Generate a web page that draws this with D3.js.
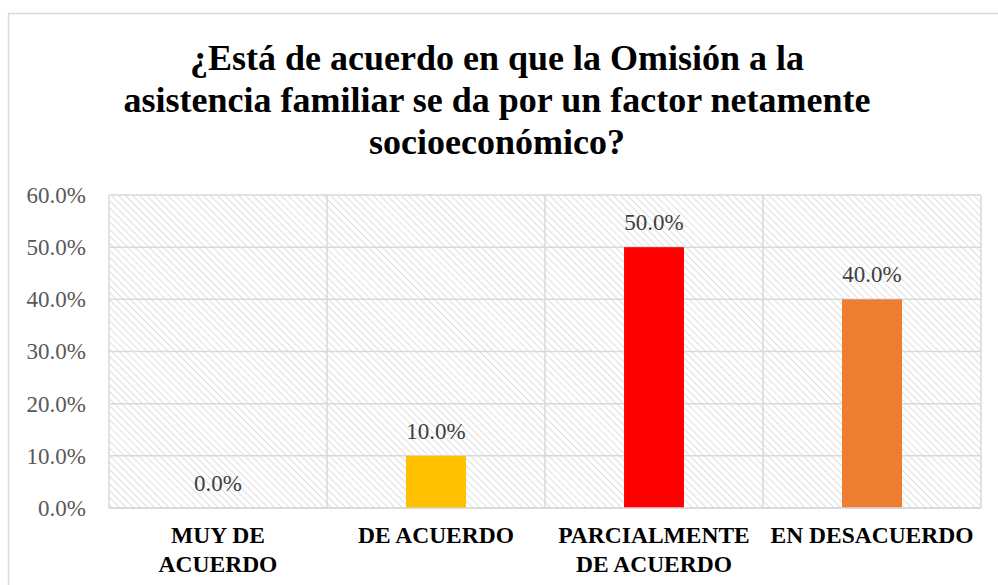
<!DOCTYPE html>
<html>
<head>
<meta charset="utf-8">
<script src="https://cdn.jsdelivr.net/npm/d3@7"></script>
<style>
  html, body { margin: 0; padding: 0; background: #fff; }
  svg { display: block; }
</style>
</head>
<body>
<div id="chart"></div>
<script>
// Data
const categories = [['MUY DE', 'ACUERDO'], ['DE ACUERDO'], ['PARCIALMENTE', 'DE ACUERDO'], ['EN DESACUERDO']];
const values     = [0.0, 0.10, 0.50, 0.40];
const colors     = ['#FFC000', '#FFC000', '#FF0000', '#ED7D31'];
const yTicks     = [0, 0.1, 0.2, 0.3, 0.4, 0.5, 0.6];
const titleLines = ['¿Está de acuerdo en que la Omisión a la',
                    'asistencia familiar se da por un factor netamente',
                    'socioeconómico?'];

// Layout
const width  = 998;
const height = 585;
const plot   = { left: 109, right: 981, top: 195, bottom: 508 };
const serif  = '"Liberation Serif", "Times New Roman", serif';

const svg = d3.select('#chart')
  .append('svg')
    .attr('width', width)
    .attr('height', height);

// hatch pattern for plot background
const defs = svg.append('defs');
const pat = defs.append('pattern')
    .attr('id', 'hatch')
    .attr('patternUnits', 'userSpaceOnUse')
    .attr('width', 5)
    .attr('height', 5)
    .attr('patternTransform', 'rotate(-45)');
pat.append('rect').attr('width', 5).attr('height', 5).attr('fill', '#fff');
pat.append('line')
    .attr('x1', 0).attr('y1', 0).attr('x2', 0).attr('y2', 5)
    .attr('stroke', '#d6d6d6')
    .attr('stroke-width', 1.6);

// chart frame
svg.append('rect')
    .attr('x', 8.5).attr('y', 13.5)
    .attr('width', 1000).attr('height', 600)
    .attr('fill', '#fff')
    .attr('stroke', '#d9d9d9')
    .attr('stroke-width', 1.5);

// Title
svg.append('text')
    .attr('x', 497)
    .attr('font-family', serif)
    .attr('font-weight', 'bold')
    .attr('font-size', 36)
    .attr('fill', '#000')
    .attr('text-anchor', 'middle')
  .selectAll('tspan')
  .data(titleLines)
  .join('tspan')
    .attr('x', 497)
    .attr('y', (d, i) => 70 + i * 42)
    .text(d => d);

// Scales
const x = d3.scaleBand()
  .domain(d3.range(categories.length))
  .range([plot.left, plot.right])
  .padding(0);

const y = d3.scaleLinear()
  .domain([0, 0.6])
  .range([plot.bottom, plot.top]);

const barW = x.bandwidth() * 0.275;

// plot background
svg.append('rect')
    .attr('x', plot.left)
    .attr('y', plot.top)
    .attr('width', plot.right - plot.left)
    .attr('height', plot.bottom - plot.top)
    .attr('fill', 'url(#hatch)');

// horizontal gridlines
svg.append('g')
  .selectAll('line')
  .data(yTicks)
  .join('line')
    .attr('x1', plot.left).attr('x2', plot.right)
    .attr('y1', d => y(d)).attr('y2', d => y(d))
    .attr('stroke', '#d9d9d9')
    .attr('stroke-width', 1.5);

// vertical gridlines at category boundaries
const bounds = d3.range(categories.length + 1).map(i => plot.left + i * x.step());
svg.append('g')
  .selectAll('line')
  .data(bounds)
  .join('line')
    .attr('x1', d => d).attr('x2', d => d)
    .attr('y1', plot.top).attr('y2', plot.bottom)
    .attr('stroke', '#d9d9d9')
    .attr('stroke-width', 1.5);

// Y axis
const yAxis = svg.append('g')
    .attr('transform', `translate(${plot.left},0)`)
    .call(d3.axisLeft(y).tickValues(yTicks).tickFormat(d3.format('.1%')).tickSize(0).tickPadding(23));
yAxis.select('.domain').remove();
yAxis.selectAll('text')
    .attr('font-family', serif)
    .attr('font-size', 23)
    .attr('fill', '#595959');

// Bars
svg.append('g')
  .selectAll('rect')
  .data(values)
  .join('rect')
    .attr('x', (d, i) => x(i) + (x.bandwidth() - barW) / 2)
    .attr('y', d => y(d))
    .attr('width', barW)
    .attr('height', d => y(0) - y(d))
    .attr('fill', (d, i) => colors[i]);

// bottom axis line
svg.append('line')
    .attr('x1', plot.left).attr('x2', plot.right)
    .attr('y1', y(0)).attr('y2', y(0))
    .attr('stroke', '#d9d9d9')
    .attr('stroke-width', 1.5);

// Data labels
svg.append('g')
  .selectAll('text')
  .data(values)
  .join('text')
    .attr('x', (d, i) => x(i) + x.bandwidth() / 2)
    .attr('y', d => y(d) - 17)
    .attr('text-anchor', 'middle')
    .attr('font-family', serif)
    .attr('font-size', 23)
    .attr('fill', '#404040')
    .text(d => d3.format('.1%')(d));

// Category labels
svg.append('g')
  .selectAll('text')
  .data(categories)
  .join('text')
    .attr('text-anchor', 'middle')
    .attr('font-family', serif)
    .attr('font-weight', 'bold')
    .attr('font-size', 23.5)
    .attr('fill', '#000')
  .selectAll('tspan')
  .data((d, i) => d.map(t => ({ t, i })))
  .join('tspan')
    .attr('x', d => x(d.i) + x.bandwidth() / 2)
    .attr('y', (d, j) => 543 + j * 29)
    .text(d => d.t);
</script>
</body>
</html>
